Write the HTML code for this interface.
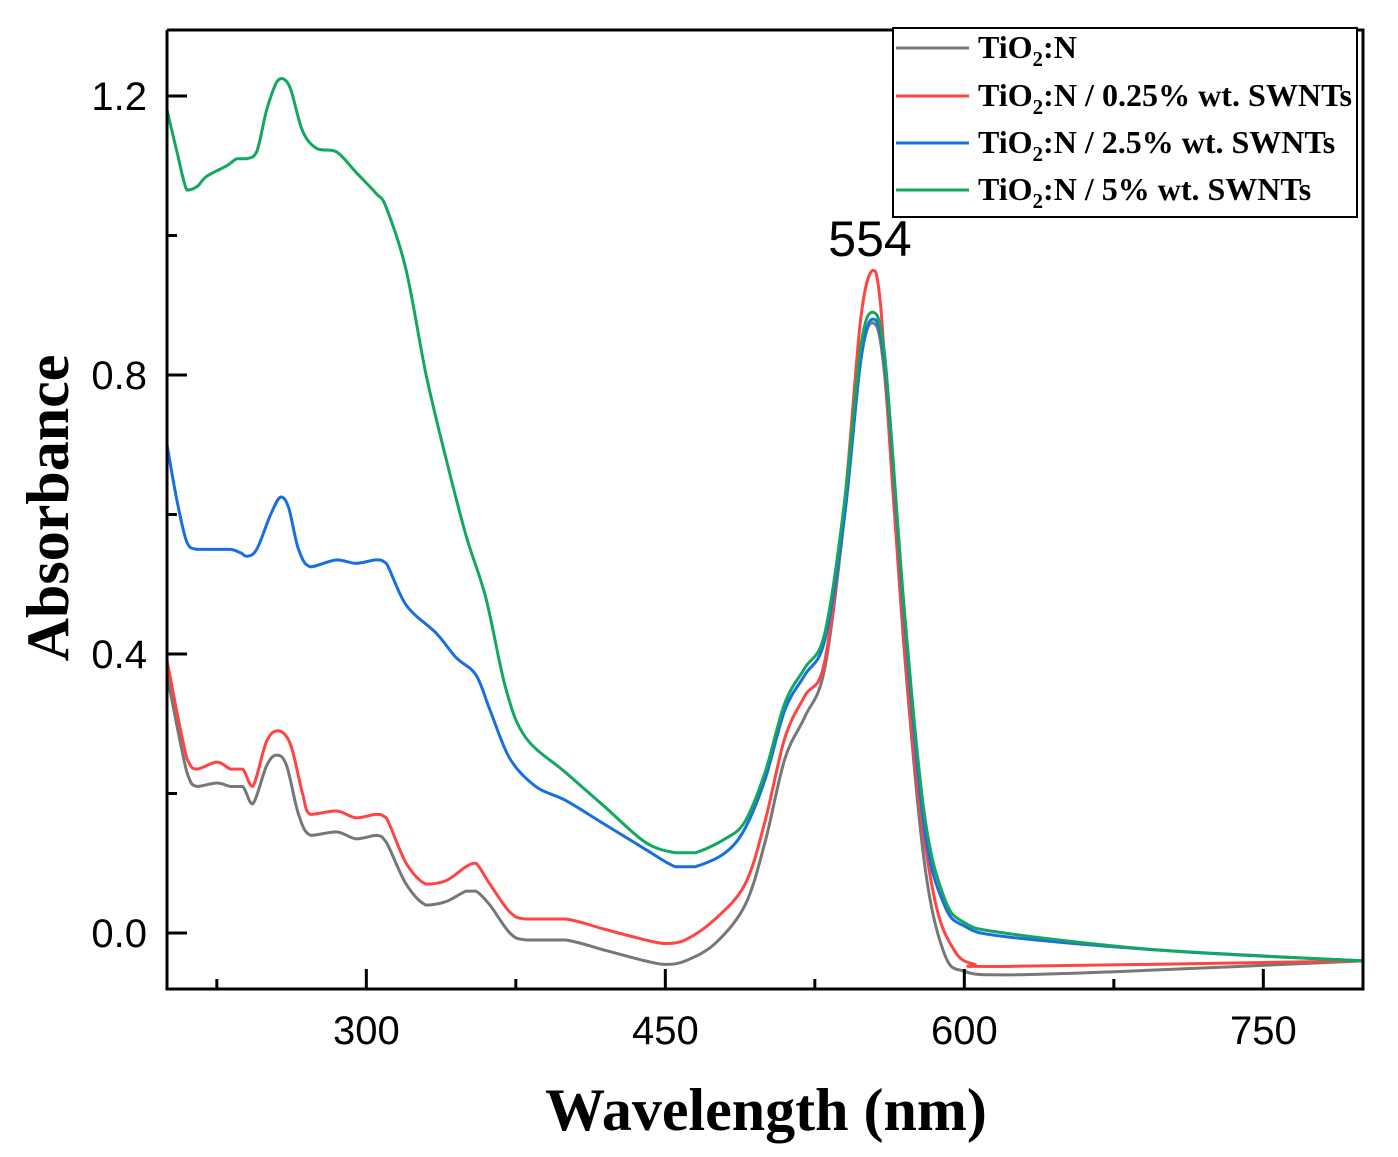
<!DOCTYPE html>
<html><head><meta charset="utf-8"><style>
html,body{margin:0;padding:0;background:#fff;}
svg{display:block;}
</style></head><body>
<svg id="chart" width="1398" height="1157" xmlns="http://www.w3.org/2000/svg">
<g id="marks"></g>
<g id="axes"></g>
<text x="870" y="256" font-family="Liberation Sans, sans-serif" font-size="50" text-anchor="middle">554</text>
<text x="766" y="1130" font-family="Liberation Serif, serif" font-weight="bold" font-size="60" text-anchor="middle">Wavelength (nm)</text>
<text transform="translate(68,508) rotate(-90)" font-family="Liberation Serif, serif" font-weight="bold" font-size="60" text-anchor="middle">Absorbance</text>
<g>
<rect x="893" y="28" width="464" height="189" fill="#fff" stroke="#000" stroke-width="2"/>
<g><line x1="896" y1="48" x2="969" y2="48" stroke="#777" stroke-width="3"/><text x="978" y="58" font-family="Liberation Serif, serif" font-weight="bold" font-size="32">TiO<tspan font-size="21" dy="8">2</tspan><tspan dy="-8">:N</tspan></text></g>
<g><line x1="896" y1="96" x2="969" y2="96" stroke="#f44" stroke-width="3"/><text x="978" y="106" font-family="Liberation Serif, serif" font-weight="bold" font-size="32" textLength="374" lengthAdjust="spacingAndGlyphs">TiO<tspan font-size="21" dy="8">2</tspan><tspan dy="-8">:N / 0.25% wt. SWNTs</tspan></text></g>
<g><line x1="896" y1="143" x2="969" y2="143" stroke="#1a6fe0" stroke-width="3"/><text x="978" y="153" font-family="Liberation Serif, serif" font-weight="bold" font-size="32">TiO<tspan font-size="21" dy="8">2</tspan><tspan dy="-8">:N / 2.5% wt. SWNTs</tspan></text></g>
<g><line x1="896" y1="190" x2="969" y2="190" stroke="#12a860" stroke-width="3"/><text x="978" y="200" font-family="Liberation Serif, serif" font-weight="bold" font-size="32">TiO<tspan font-size="21" dy="8">2</tspan><tspan dy="-8">:N / 5% wt. SWNTs</tspan></text></g>
</g>
</svg>
<script>
const grayX=[200,210,215,225,232,238,243,250,255,260,266,272,285,295,305,310,320,330,340,350,355,362,372,380,400,420,440,450,460,475,490,500,510,520,530,540,548,554,560,570,580,590,600,620,680,800];
const grayY=[0.37,0.23,0.21,0.215,0.21,0.21,0.185,0.24,0.255,0.24,0.17,0.14,0.145,0.135,0.14,0.13,0.07,0.04,0.045,0.06,0.06,0.04,0.0,-0.01,-0.01,-0.025,-0.04,-0.045,-0.04,-0.015,0.04,0.13,0.25,0.31,0.38,0.6,0.82,0.875,0.8,0.4,0.1,-0.03,-0.055,-0.06,-0.055,-0.04];
const redX=[200,210,215,225,232,238,243,250,256,262,268,272,285,295,305,310,320,330,340,350,355,362,372,380,400,420,440,450,460,475,490,500,510,520,530,540,548,554,558,565,575,585,595,605,620,800];
const redY=[0.39,0.25,0.235,0.245,0.235,0.235,0.21,0.275,0.29,0.27,0.2,0.17,0.175,0.165,0.17,0.165,0.1,0.07,0.075,0.095,0.1,0.07,0.03,0.02,0.02,0.005,-0.01,-0.015,-0.01,0.02,0.07,0.16,0.28,0.34,0.39,0.62,0.88,0.95,0.9,0.6,0.25,0.05,-0.025,-0.045,-0.048,-0.04];
const blueX=[200,205,210,215,225,232,237,240,245,252,257,261,266,272,285,295,305,310,320,335,345,355,362,372,385,400,420,440,455,465,480,490,500,510,520,530,540,548,554,560,570,580,590,600,620,700,800];
const blueY=[0.7,0.62,0.56,0.55,0.55,0.55,0.545,0.54,0.55,0.6,0.625,0.61,0.55,0.525,0.535,0.53,0.535,0.53,0.47,0.43,0.395,0.37,0.32,0.25,0.21,0.19,0.155,0.12,0.095,0.095,0.115,0.15,0.22,0.32,0.37,0.42,0.6,0.82,0.88,0.82,0.45,0.15,0.04,0.01,-0.005,-0.025,-0.04];
const greenX=[200,205,210,215,220,230,235,240,245,250,255,258,262,268,275,285,295,305,310,320,330,340,350,360,370,380,400,420,440,455,465,480,490,500,510,520,530,540,548,554,560,570,580,590,600,620,700,800];
const greenY=[1.18,1.12,1.065,1.07,1.085,1.1,1.11,1.11,1.12,1.18,1.22,1.225,1.21,1.15,1.125,1.12,1.09,1.06,1.04,0.95,0.8,0.68,0.57,0.48,0.35,0.28,0.23,0.18,0.13,0.115,0.115,0.135,0.16,0.23,0.33,0.38,0.43,0.62,0.84,0.89,0.83,0.46,0.17,0.05,0.015,0.0,-0.025,-0.04];
const xTicks=[300,450,600,750];
const yTicks=[0.0,0.4,0.8,1.2];
const L=167,R=1363,T=30,B=989,X0=200,X1=800,Y0=-0.0803,Y1=1.2946;
const sx=v=>L+(v-X0)/(X1-X0)*(R-L);
const sy=v=>B-(v-Y0)/(Y1-Y0)*(B-T);
const NS="http://www.w3.org/2000/svg";
function mk(t,a,p){const e=document.createElementNS(NS,t);for(const k in a)e.setAttribute(k,a[k]);p.appendChild(e);return e;}
function clamp(v,a,b){const lo=Math.min(a,b),hi=Math.max(a,b);return Math.max(lo,Math.min(hi,v));}
function path(xs,ys){const p=xs.map((x,i)=>[sx(x),sy(ys[i])]);let d=`M${p[0][0]},${p[0][1]}`;
for(let i=0;i<p.length-1;i++){const a=p[Math.max(0,i-1)],b=p[i],c=p[i+1],e=p[Math.min(p.length-1,i+2)];
const c1y=clamp(b[1]+(c[1]-a[1])/6,b[1],c[1]),c2y=clamp(c[1]-(e[1]-b[1])/6,b[1],c[1]);
d+=` C${b[0]+(c[0]-a[0])/6},${c1y} ${c[0]-(e[0]-b[0])/6},${c2y} ${c[0]},${c[1]}`;}return d;}
const marks=document.getElementById('marks');
const series=[[grayX,grayY,'#777','series-tio2n'],[redX,redY,'#f44','series-025-swnt'],[blueX,blueY,'#1a6fe0','series-25-swnt'],[greenX,greenY,'#12a860','series-5-swnt']];
for(const s of series){const el=mk('path',{d:path(s[0],s[1]),fill:'none',stroke:s[2],'stroke-width':3,'stroke-linejoin':'round'},marks);

}
const ax=document.getElementById('axes');
mk('path',{d:`M${L},${T} V${B} H${R} V${T} H${L}`,fill:'none',stroke:'#000','stroke-width':3},ax);
for(let v=225;v<=800;v+=75){const x=sx(v);const major=xTicks.includes(v);
mk('line',{x1:x,y1:B,x2:x,y2:B-(major?20:10),stroke:'#000','stroke-width':3},ax);
if(major){const t=mk('text',{x:x,y:B+55,'text-anchor':'middle','font-family':'Liberation Sans, sans-serif','font-size':40},ax);t.textContent=v;

}}
for(let i=0;i<7;i++){const v=Math.round(i*0.2*10)/10;const y=sy(v);const major=yTicks.includes(v);
mk('line',{x1:L,y1:y,x2:L+(major?20:10),y2:y,stroke:'#000','stroke-width':3},ax);
if(major){const t=mk('text',{x:L-20,y:y+14,'text-anchor':'end','font-family':'Liberation Sans, sans-serif','font-size':40},ax);t.textContent=v.toFixed(1);

}}
</script>
</body></html>
